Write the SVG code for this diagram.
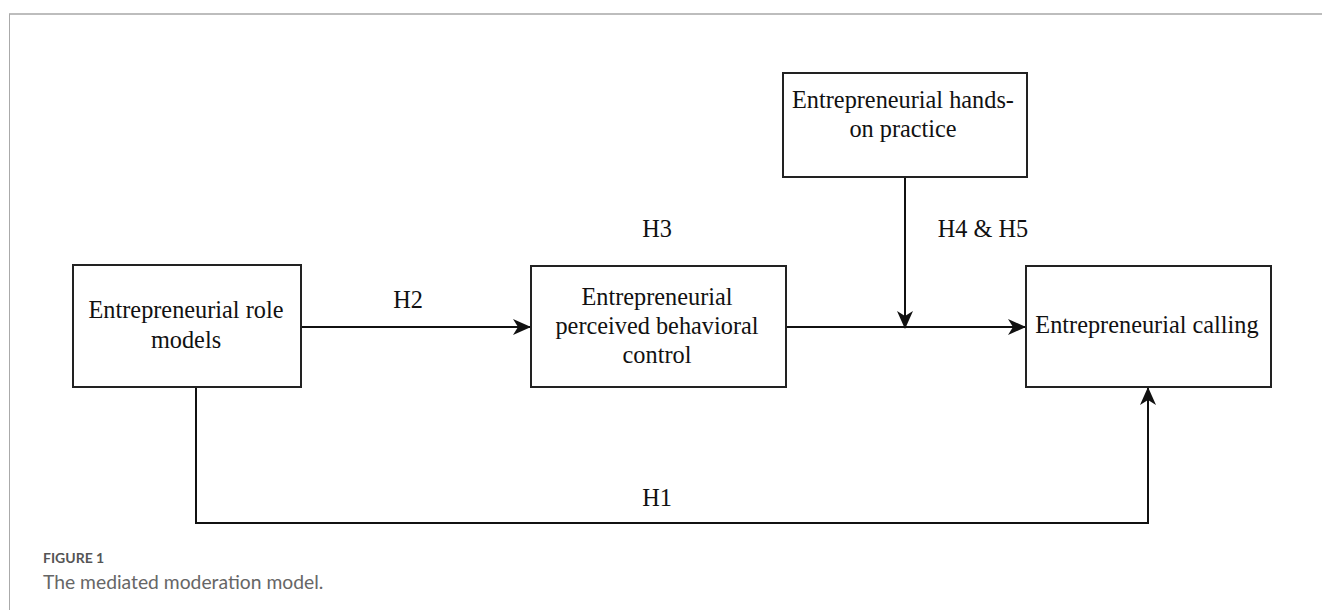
<svg xmlns="http://www.w3.org/2000/svg" width="1322" height="610" viewBox="0 0 1322 610">
<defs>
<style>
.box{fill:#fff;stroke:#222;stroke-width:2}
.lbl{font-family:"Liberation Serif","Times New Roman",serif;font-size:24.3px;fill:#111;text-anchor:middle}
.edge{fill:none;stroke:#111;stroke-width:2}
.cap1{font-family:Lato,"Open Sans",sans-serif;font-size:14px;font-weight:bold;fill:#555}
.cap2{font-family:Lato,"Open Sans",sans-serif;font-size:19.3px;fill:#666}
</style>
<marker id="arr" viewBox="0 0 18 16" refX="17" refY="8" markerWidth="18" markerHeight="16" markerUnits="userSpaceOnUse" orient="auto">
<path d="M0,0 L18,8 L0,16 L5,8 Z" fill="#111"/>
</marker>
</defs>
<rect width="1322" height="610" fill="#fff"/>
<g id="frame">
<line x1="9" y1="14" x2="1322" y2="14" stroke="#bdbdbd" stroke-width="2"/>
<line x1="9.5" y1="14" x2="9.5" y2="610" stroke="#aaa" stroke-width="1"/>
</g>
<g id="connectors">
<line class="edge" x1="301" y1="327" x2="530" y2="327" marker-end="url(#arr)"/>
<line class="edge" x1="786" y1="327" x2="1025" y2="327" marker-end="url(#arr)"/>
<line class="edge" x1="905" y1="177" x2="905" y2="328" marker-end="url(#arr)"/>
<polyline class="edge" points="196,387 196,523 1148,523 1148,388" marker-end="url(#arr)"/>
<text class="lbl" x="408" y="308">H2</text>
<text class="lbl" x="657" y="237">H3</text>
<text class="lbl" x="983" y="237">H4 &amp; H5</text>
<text class="lbl" x="657" y="506">H1</text>
</g>
<g id="role-models">
<rect class="box" x="73" y="265" width="228" height="122"/>
<text class="lbl" x="186" y="318">Entrepreneurial role</text>
<text class="lbl" x="186" y="348">models</text>
</g>
<g id="pbc">
<rect class="box" x="531" y="266" width="255" height="121"/>
<text class="lbl" x="657" y="305">Entrepreneurial</text>
<text class="lbl" x="657" y="334">perceived behavioral</text>
<text class="lbl" x="657" y="363">control</text>
</g>
<g id="hands-on">
<rect class="box" x="783" y="73" width="244" height="104"/>
<text class="lbl" x="903" y="108">Entrepreneurial hands-</text>
<text class="lbl" x="903" y="137">on practice</text>
</g>
<g id="calling">
<rect class="box" x="1026" y="266" width="245" height="121"/>
<text class="lbl" x="1147" y="333">Entrepreneurial calling</text>
</g>
<g id="caption">
<text class="cap1" x="43" y="563">FIGURE 1</text>
<text class="cap2" x="43" y="589">The mediated moderation model.</text>
</g>
</svg>
